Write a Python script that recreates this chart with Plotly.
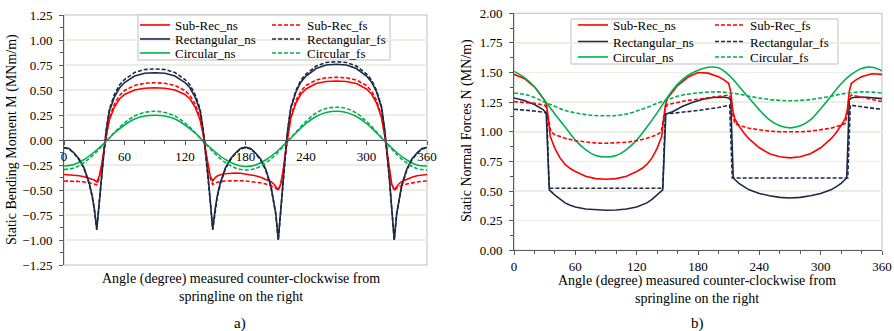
import plotly.graph_objects as go

# ---------------- DATA ----------------
# (a) Static bending moment M (MNm/m)
ANG_M = [0,5,10,15,20,25,28,30,32.5,35,37.5,40,42,45,50,55,60,70,80,90,
         100,110,120,125,130,135,138,140,142.5,145,147.5,150,152,155,160,165,170,175,180,185,
         190,195,200,205,208,210,212.5,215,217.5,220,222,225,230,235,240,250,260,270,280,290,
         300,305,310,315,318,320,322.5,325,327.5,330,332,335,340,345,350,355,360]

M_RECT_NS = [-0.075,-0.085,-0.13,-0.19,-0.28,-0.43,-0.56,-0.68,-0.89,-0.60,
             -0.32,-0.08,0.10,0.29,0.43,0.52,0.575,0.64,0.668,0.673,
             0.668,0.64,0.575,0.52,0.43,0.29,0.10,-0.08,-0.32,-0.60,
             -0.89,-0.68,-0.56,-0.43,-0.28,-0.19,-0.13,-0.085,-0.072,-0.085,
             -0.13,-0.19,-0.29,-0.45,-0.60,-0.73,-1.0,-0.68,-0.36,-0.08,
             0.11,0.32,0.48,0.58,0.64,0.715,0.75,0.757,0.75,0.715,
             0.64,0.58,0.48,0.32,0.11,-0.08,-0.36,-0.68,-1.0,-0.73,
             -0.60,-0.45,-0.29,-0.19,-0.13,-0.085,-0.075]

M_RECT_FS = [-0.08,-0.09,-0.135,-0.20,-0.29,-0.44,-0.57,-0.69,-0.90,-0.61,
             -0.33,-0.08,0.11,0.31,0.455,0.55,0.605,0.675,0.705,0.71,
             0.705,0.675,0.605,0.55,0.455,0.31,0.11,-0.08,-0.33,-0.61,
             -0.90,-0.69,-0.57,-0.44,-0.29,-0.20,-0.135,-0.09,-0.078,-0.09,
             -0.135,-0.20,-0.30,-0.46,-0.61,-0.74,-1.0,-0.69,-0.37,-0.08,
             0.115,0.33,0.495,0.60,0.66,0.74,0.775,0.783,0.775,0.74,
             0.66,0.60,0.495,0.33,0.115,-0.08,-0.37,-0.69,-1.0,-0.74,
             -0.61,-0.46,-0.30,-0.20,-0.135,-0.09,-0.08]

M_SUB_NS = [-0.345,-0.347,-0.352,-0.358,-0.367,-0.38,-0.39,-0.40,-0.42,-0.36,
            -0.24,-0.08,0.06,0.20,0.33,0.41,0.455,0.50,0.518,0.523,
            0.518,0.50,0.455,0.41,0.33,0.20,0.06,-0.08,-0.24,-0.36,
            -0.41,-0.375,-0.36,-0.348,-0.338,-0.332,-0.33,-0.333,-0.34,-0.348,
            -0.358,-0.372,-0.39,-0.415,-0.44,-0.465,-0.50,-0.44,-0.30,-0.10,
            0.05,0.22,0.37,0.46,0.51,0.565,0.585,0.59,0.585,0.565,
            0.51,0.46,0.37,0.22,0.05,-0.10,-0.30,-0.44,-0.50,-0.465,
            -0.44,-0.415,-0.39,-0.372,-0.358,-0.35,-0.345]

M_SUB_FS = [-0.41,-0.41,-0.412,-0.415,-0.42,-0.428,-0.435,-0.44,-0.45,-0.38,
            -0.25,-0.08,0.065,0.22,0.36,0.445,0.495,0.545,0.567,0.573,
            0.567,0.545,0.495,0.445,0.36,0.22,0.065,-0.08,-0.25,-0.38,
            -0.445,-0.43,-0.422,-0.415,-0.41,-0.407,-0.405,-0.407,-0.41,-0.415,
            -0.42,-0.428,-0.44,-0.455,-0.47,-0.48,-0.50,-0.44,-0.31,-0.10,
            0.055,0.235,0.395,0.49,0.545,0.60,0.622,0.627,0.622,0.60,
            0.545,0.49,0.395,0.235,0.055,-0.10,-0.31,-0.44,-0.50,-0.48,
            -0.47,-0.455,-0.44,-0.428,-0.42,-0.413,-0.41]

ANG_10 = [0,10,20,30,40,50,60,70,80,90,100,110,120,130,140,150,160,170,180,
          190,200,210,220,230,240,250,260,270,280,290,300,310,320,330,340,350,360]

M_CIRC_NS = [-0.26,-0.245,-0.195,-0.12,-0.03,0.07,0.15,0.21,0.24,0.247,
             0.24,0.21,0.15,0.07,-0.03,-0.12,-0.195,-0.245,-0.265,
             -0.25,-0.20,-0.125,-0.03,0.07,0.165,0.235,0.275,0.287,0.275,
             0.235,0.165,0.07,-0.03,-0.125,-0.20,-0.25,-0.26]
M_CIRC_FS = [-0.295,-0.28,-0.225,-0.14,-0.035,0.075,0.17,0.24,0.275,0.287,
             0.275,0.24,0.17,0.075,-0.035,-0.14,-0.225,-0.28,-0.30,
             -0.285,-0.23,-0.145,-0.035,0.08,0.185,0.27,0.315,0.327,0.315,
             0.27,0.185,0.08,-0.035,-0.145,-0.23,-0.285,-0.30]

# (b) Static normal forces N (MN/m)
ANG_N_SUB_NS = [0,10,20,30,32,34,35.5,40,45,50,55,60,70,80,90,100,110,120,125,130,
                135,140,144.5,146,148,150,160,170,180,190,200,205,210,212,214,216,218,220,225,230,
                240,250,260,270,280,290,300,310,315,320,322,324,326,328,330,335,340,350,360]
N_SUB_NS = [1.485,1.45,1.38,1.265,1.22,1.08,0.96,0.86,0.78,0.725,
            0.69,0.665,0.625,0.605,0.60,0.605,0.625,0.665,0.69,0.725,
            0.78,0.86,0.96,1.08,1.22,1.28,1.39,1.46,1.50,1.495,
            1.465,1.44,1.41,1.34,1.18,1.11,1.08,1.05,0.99,0.94,
            0.865,0.815,0.79,0.78,0.79,0.815,0.865,0.94,0.99,1.05,
            1.08,1.11,1.18,1.34,1.41,1.44,1.465,1.49,1.485]

ANG_N_SUB_FS = [0,10,20,30,32,34,36,40,50,60,70,80,90,100,110,120,130,140,144,146,
                148,150,160,170,180,190,200,210,212,214,216,220,230,240,250,260,270,280,290,300,
                310,320,324,326,328,330,340,350,360]
N_SUB_FS = [1.255,1.25,1.24,1.225,1.20,1.10,1.00,0.975,0.945,0.925,
            0.912,0.905,0.903,0.905,0.912,0.925,0.945,0.975,1.00,1.10,
            1.20,1.23,1.25,1.265,1.275,1.285,1.295,1.31,1.29,1.15,
            1.07,1.055,1.03,1.015,1.005,1.0,0.998,1.0,1.005,1.015,
            1.03,1.055,1.07,1.15,1.29,1.31,1.29,1.27,1.255]

ANG_N_RECT_NS = [0,10,20,28,31.5,34.5,40,45,50,55,60,70,80,90,100,110,120,125,130,135,
                 140,145.5,148.5,155,165,175,185,195,205,210,212,214.5,220,225,230,240,250,260,270,280,
                 290,300,310,315,320,325.5,328,330,335,345,355,360]
N_RECT_NS = [1.285,1.265,1.23,1.19,1.16,0.51,0.465,0.43,0.40,0.38,
             0.366,0.348,0.34,0.338,0.34,0.348,0.366,0.38,0.40,0.43,
             0.465,0.51,1.15,1.17,1.215,1.25,1.275,1.29,1.293,1.285,
             1.27,0.61,0.565,0.535,0.51,0.48,0.46,0.447,0.441,0.447,
             0.46,0.48,0.51,0.535,0.565,0.61,1.27,1.285,1.293,1.292,
             1.285,1.28]

ANG_N_RECT_FS = [0,10,20,30,32,34.5,90,145.5,148,160,180,200,211,213.5,270,326.5,329,340,350,360]
N_RECT_FS = [1.19,1.185,1.175,1.165,1.15,0.523,0.523,0.523,1.15,1.16,
             1.18,1.205,1.225,0.61,0.61,0.61,1.225,1.21,1.20,1.19]

N_CIRC_NS = [1.51,1.46,1.38,1.265,1.15,1.04,0.93,0.85,0.80,0.787,
             0.80,0.85,0.93,1.04,1.16,1.29,1.40,1.475,1.52,
             1.545,1.54,1.48,1.385,1.285,1.185,1.10,1.05,1.033,1.05,
             1.10,1.195,1.30,1.405,1.485,1.535,1.545,1.515]
N_CIRC_FS = [1.327,1.315,1.29,1.25,1.215,1.18,1.16,1.145,1.137,1.135,
             1.137,1.15,1.175,1.205,1.24,1.27,1.30,1.318,1.328,
             1.335,1.337,1.33,1.318,1.30,1.285,1.272,1.265,1.262,1.265,
             1.272,1.285,1.30,1.318,1.33,1.337,1.335,1.327]

NAMES_NS = ["Sub-Rec_ns", "Rectangular_ns", "Circular_ns"]
NAMES_FS = ["Sub-Rec_fs", "Rectangular_fs", "Circular_fs"]
X_TICKS = [0, 60, 120, 180, 240, 300, 360]

# ---------------- STYLE ----------------
W, H = 894, 331
FONT = "Liberation Serif, Times New Roman, serif"
RED, NAVY, GREEN = "#FF0000", "#1B2A47", "#00B050"
GRID = "#EDEDE5"
AXIS = "#595959"
BORDER = "#BFBFBF"
DASH = "4px,2px"

def px(x):
    return x / W

def py(y):
    return 1 - y / H

L_DOM_X, L_DOM_Y = [px(64), px(427)], [py(265), py(15)]
R_DOM_X, R_DOM_Y = [px(514), px(882)], [py(250.3), py(13.3)]

fig = go.Figure()

left_series = [
    (ANG_M, M_SUB_NS, NAMES_NS[0], RED, "solid"),
    (ANG_M, M_RECT_NS, NAMES_NS[1], NAVY, "solid"),
    (ANG_10, M_CIRC_NS, NAMES_NS[2], GREEN, "solid"),
    (ANG_M, M_SUB_FS, NAMES_FS[0], RED, DASH),
    (ANG_M, M_RECT_FS, NAMES_FS[1], NAVY, DASH),
    (ANG_10, M_CIRC_FS, NAMES_FS[2], GREEN, DASH),
]
right_series = [
    (ANG_N_SUB_NS, N_SUB_NS, NAMES_NS[0], RED, "solid"),
    (ANG_N_RECT_NS, N_RECT_NS, NAMES_NS[1], NAVY, "solid"),
    (ANG_10, N_CIRC_NS, NAMES_NS[2], GREEN, "solid"),
    (ANG_N_SUB_FS, N_SUB_FS, NAMES_FS[0], RED, DASH),
    (ANG_N_RECT_FS, N_RECT_FS, NAMES_FS[1], NAVY, DASH),
    (ANG_10, N_CIRC_FS, NAMES_FS[2], GREEN, DASH),
]

# legend positions (pixel): (x of legend left, y of row centre)
left_leg_pos = [(135, 25), (135, 39), (135, 53), (267, 25), (267, 39), (267, 53)]
right_leg_pos = [(573, 25), (573, 41.5), (573, 57), (710, 25), (710, 41.5), (710, 57)]

legend_layouts = {}
k = 1
for series, axes, pos in ((left_series, ("x", "y"), left_leg_pos),
                          (right_series, ("x2", "y2"), right_leg_pos)):
    for (xs, ys, name, col, dash), (lx, ly) in zip(series, pos):
        lname = "legend" if k == 1 else f"legend{k}"
        smooth = "spline" if "Circular" in name else "linear"
        fig.add_trace(go.Scatter(
            x=xs, y=ys, name=name, mode="lines",
            line=dict(color=col, width=1.6, dash=dash, shape=smooth),
            xaxis=axes[0], yaxis=axes[1], legend=lname, showlegend=True))
        legend_layouts[lname] = dict(
            x=px(lx), y=py(ly), xanchor="left", yanchor="middle",
            bgcolor="rgba(0,0,0,0)", borderwidth=0,
            font=dict(family=FONT, size=13, color="#000"),
            itemwidth=30, tracegroupgap=0)
        k += 1

tickfont = dict(family=FONT, size=13, color="#000")
common_x = dict(range=[0, 360], tickvals=X_TICKS, ticktext=[str(v) for v in X_TICKS],
                ticks="outside", ticklen=4, tickcolor=AXIS, showline=True, linecolor=AXIS,
                linewidth=1, showgrid=False, zeroline=False, tickfont=tickfont,
                minor=dict(tickvals=list(range(20, 360, 20)), ticks="outside", ticklen=3,
                           tickcolor=AXIS))

fig.update_layout(
    width=W, height=H, margin=dict(l=0, r=0, t=0, b=0, autoexpand=False),
    plot_bgcolor="white", paper_bgcolor="white",
    xaxis=dict(domain=L_DOM_X, anchor="free",
               position=(L_DOM_Y[0] + L_DOM_Y[1]) / 2, **common_x),
    yaxis=dict(domain=L_DOM_Y, anchor="x", range=[-1.25, 1.25], dtick=0.25,
               tickformat=".2f", ticks="outside", ticklen=4, tickcolor=AXIS,
               showline=True, linecolor=AXIS, showgrid=True, gridcolor=GRID,
               gridwidth=1.5, zeroline=False, tickfont=tickfont, ticklabelstandoff=4,
               minor=dict(dtick=0.125, ticks="outside", ticklen=3, tickcolor=AXIS,
                          showgrid=False)),
    xaxis2=dict(domain=R_DOM_X, anchor="y2", **common_x),
    yaxis2=dict(domain=R_DOM_Y, anchor="x2", range=[0, 2], dtick=0.25,
                tickformat=".2f", ticks="outside", ticklen=4, tickcolor=AXIS,
                showline=True, linecolor=AXIS, showgrid=True, gridcolor=GRID,
                gridwidth=1.5, zeroline=False, tickfont=tickfont, ticklabelstandoff=4,
                minor=dict(dtick=0.125, ticks="outside", ticklen=3, tickcolor=AXIS,
                           showgrid=False)),
    **legend_layouts,
)

shapes = [
    # plot borders
    dict(type="rect", xref="paper", yref="paper", x0=L_DOM_X[0], x1=L_DOM_X[1],
         y0=L_DOM_Y[0], y1=L_DOM_Y[1], line=dict(color=BORDER, width=1), layer="between"),
    dict(type="rect", xref="paper", yref="paper", x0=R_DOM_X[0], x1=R_DOM_X[1],
         y0=R_DOM_Y[0], y1=R_DOM_Y[1], line=dict(color=BORDER, width=1), layer="between"),
    # legend boxes
    dict(type="rect", xref="paper", yref="paper", x0=px(138), x1=px(390),
         y0=py(60), y1=py(15), line=dict(color=BORDER, width=1), fillcolor="white",
         layer="between"),
    dict(type="rect", xref="paper", yref="paper", x0=px(571), x1=px(838),
         y0=py(64), y1=py(19), line=dict(color=BORDER, width=1), fillcolor="white",
         layer="between"),
]
fig.update_layout(shapes=shapes)

xt = "Angle (degree) measured counter-clockwise from<br>springline on the right"
def note(text, x, y, size=14, angle=0):
    return dict(text=text, x=px(x), y=py(y), showarrow=False, xref="paper", yref="paper",
                xanchor="center", yanchor="middle", align="center", textangle=angle,
                font=dict(family=FONT, size=size, color="#000"))

ann = [
    note(xt, 241, 287.5),
    note(xt, 697, 289.5),
    note("a)", 240, 323, 15),
    note("b)", 697, 323, 15),
    note("Static Bending Moment M (MNm/m)", 12, 140, 14, -90),
    note("Static Normal Forces N (MN/m)", 467, 131, 14, -90),
]
fig.update_layout(annotations=ann)

fig.write_html("out.html",
               config={"displayModeBar": False, "staticPlot": True},
               post_script="document.body.style.margin='0px';"
                           "document.body.style.overflow='hidden';")
